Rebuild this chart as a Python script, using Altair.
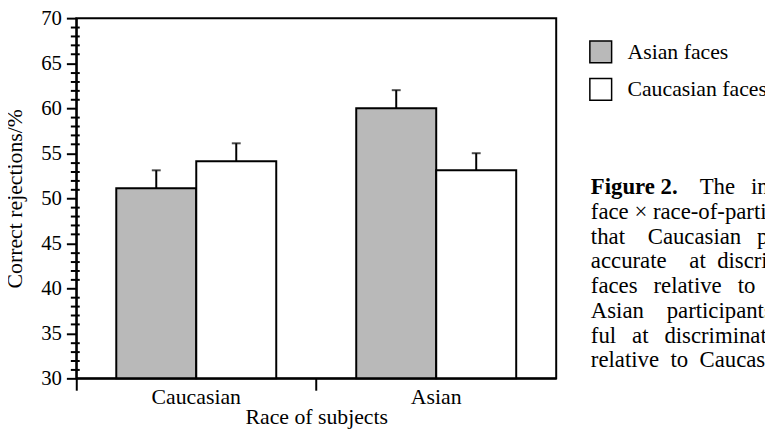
import altair as alt
import pandas as pd

# ---- data ----
subject_order = ["Caucasian", "Asian"]
face_order = ["Asian faces", "Caucasian faces"]
subjects = ["Caucasian", "Caucasian", "Asian", "Asian"]
faces = ["Asian faces", "Caucasian faces", "Asian faces", "Caucasian faces"]
values = [51.1, 54.1, 60.0, 53.1]
errors = [2.0, 2.0, 2.0, 1.9]
face_colors = ["#b9b9b9", "#ffffff"]
y_min, y_max = 30, 70
y_major = [30, 35, 40, 45, 50, 55, 60, 65, 70]
y_minor = [v for v in range(31, 70) if v % 5 != 0]

E = "\u2003"   # em space
N = "\u2002"   # en space
T = "\u2009"   # thin space
caption_bold = "Figure 2."
caption_first = "The" + N + T + "interaction"
caption_lines = [
    "face \u00d7 race-of-participant",
    "that" + E + "Caucasian" + N + T + "participants",
    "accurate" + E + "at" + N + "discriminating",
    "faces" + N + T + "relative" + N + T + "to" + N + "Caucasian",
    "Asian" + E + "participants",
    "ful" + N + T + "at" + N + T + "discriminating",
    "relative" + N + "to" + N + "Caucasian",
]

FONT = "Liberation Serif"

df = pd.DataFrame({"subjects": subjects, "faces": faces, "value": values, "err": errors})
df["upper"] = df["value"] + df["err"]

x_enc = alt.X(
    "subjects:N",
    sort=subject_order,
    scale=alt.Scale(paddingInner=0, paddingOuter=0),
    axis=alt.Axis(
        title="Race of subjects",
        bandPosition=0,
        tickSize=12,
        tickWidth=2,
        tickColor="black",
        domainColor="black",
        domainWidth=2,
        labelAngle=0,
        labelFont=FONT,
        labelFontSize=22,
        labelColor="black",
        labelBaseline="alphabetic",
        labelPadding=13,
        titleFont=FONT,
        titleFontSize=22,
        titleFontWeight="normal",
        titleColor="black",
        titleBaseline="alphabetic",
        titleY=46,
    ),
)
xoff_enc = alt.XOffset(
    "faces:N", sort=face_order, scale=alt.Scale(paddingInner=0, paddingOuter=0.5)
)
y_scale = alt.Scale(domain=[y_min, y_max], nice=False, zero=False)

y_axis = alt.Axis(
    orient="left",
    title="Correct rejections/%",
    values=y_major,
    labelOverlap=False,
    tickSize=10,
    tickWidth=2,
    tickColor="black",
    domainColor="black",
    domainWidth=2,
    grid=False,
    labelFont=FONT,
    labelFontSize=21,
    labelColor="black",
    labelPadding=5,
    titleFont=FONT,
    titleFontSize=22,
    titleFontWeight="normal",
    titleColor="black",
    titleX=-62,
    titleY=182,
    titleAngle=270,
    titleAlign="center",
    titleBaseline="middle",
)
y_axis_minor = alt.Axis(
    orient="left",
    title=None,
    values=y_minor,
    labels=False,
    domain=False,
    grid=False,
    offset=-3,
    tickSize=9,
    tickWidth=2,
    tickColor="black",
)

bars = alt.Chart(df).mark_bar(stroke="black", strokeWidth=2).encode(
    x=x_enc,
    xOffset=xoff_enc,
    y=alt.Y("value:Q", scale=y_scale, axis=y_axis),
    y2=alt.datum(y_min),
    fill=alt.Fill(
        "faces:N",
        sort=face_order,
        scale=alt.Scale(domain=face_order, range=face_colors),
        legend=alt.Legend(
            title=None,
            orient="none",
            legendX=518,
            legendY=22,
            symbolType="square",
            symbolSize=484,
            symbolStrokeColor="black",
            symbolStrokeWidth=1.5,
            labelFont=FONT,
            labelFontSize=22,
            labelColor="black",
            labelOffset=15,
            rowPadding=10,
        ),
    ),
)

rules = alt.Chart(df).mark_rule(color="black", strokeWidth=2).encode(
    x=x_enc, xOffset=xoff_enc, y=alt.Y("value:Q", scale=y_scale, axis=y_axis_minor), y2="upper:Q"
)
caps = alt.Chart(df).mark_tick(color="black", thickness=2, size=9).encode(
    x=x_enc, xOffset=xoff_enc, y=alt.Y("upper:Q", scale=y_scale, axis=None)
)

CAP_FS = 23
cap_x = 520
cap_y0 = 178
cap_step = 25
text_layers = [
    alt.Chart(pd.DataFrame({"t": [caption_bold]})).mark_text(
        font=FONT, fontSize=CAP_FS, fontWeight="bold", align="left", baseline="alphabetic", color="black"
    ).encode(text="t:N", x=alt.value(cap_x), y=alt.value(cap_y0)),
    alt.Chart(pd.DataFrame({"t": [caption_first]})).mark_text(
        font=FONT, fontSize=CAP_FS, align="left", baseline="alphabetic", color="black"
    ).encode(text="t:N", x=alt.value(630), y=alt.value(cap_y0)),
]
for i, line in enumerate(caption_lines):
    text_layers.append(
        alt.Chart(pd.DataFrame({"t": [line]})).mark_text(
            font=FONT, fontSize=CAP_FS, align="left", baseline="alphabetic", color="black"
        ).encode(text="t:N", x=alt.value(cap_x), y=alt.value(cap_y0 + cap_step * (i + 1)))
    )

chart = (
    alt.layer(bars, rules, caps, *text_layers)
    .resolve_axis(y="independent")
    .properties(
        width=485,
        height=364,
        autosize=alt.AutoSizeParams(type="none"),
        padding={"left": 69, "top": 8, "right": 211, "bottom": 53},
        background="white",
    )
    .configure_view(stroke="black", strokeWidth=2)
)

chart.save("out.html", embed_options={"renderer": "svg", "actions": False})
